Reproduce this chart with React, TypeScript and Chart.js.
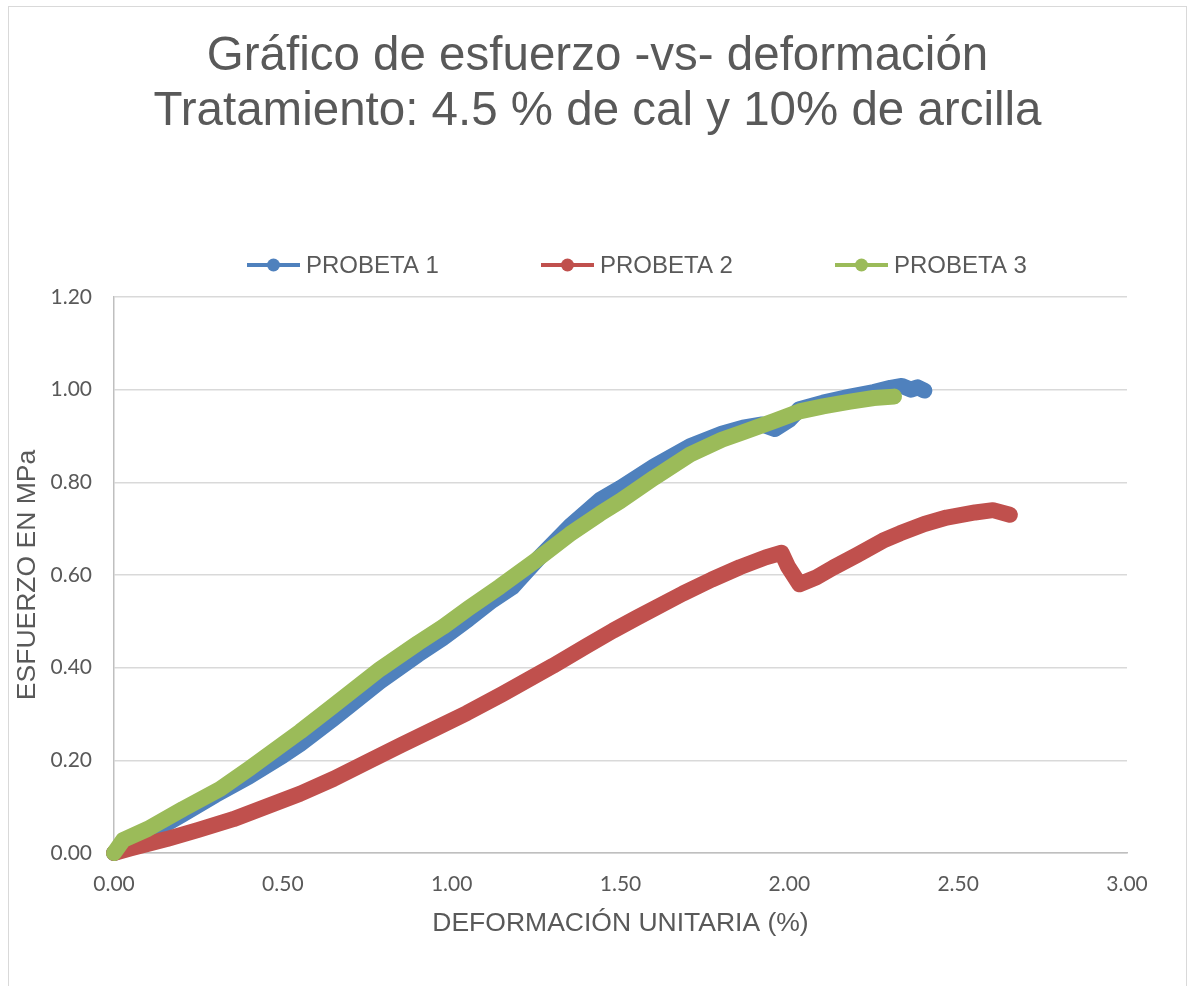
import React, { useEffect, useRef } from "react";
import { Chart, registerables } from "chart.js";

Chart.register(...registerables);

const TITLE_LINES = [
  "Gráfico de esfuerzo -vs- deformación",
  "Tratamiento: 4.5 % de cal y 10% de arcilla",
];
const X_TITLE = "DEFORMACIÓN UNITARIA (%)";
const Y_TITLE = "ESFUERZO EN MPa";
const SERIES_NAMES = ["PROBETA 1", "PROBETA 2", "PROBETA 3"];
const SERIES_COLORS = ["#4f81bd", "#c0504d", "#9bbb59"];

const p1X = [0, 0.03, 0.107, 0.2, 0.3, 0.4, 0.5, 0.551, 0.65, 0.788, 0.9, 0.974, 1.05, 1.12, 1.18, 1.2, 1.26, 1.35, 1.439, 1.5, 1.6, 1.706, 1.8, 1.863, 1.92, 1.957, 2.0, 2.03, 2.1, 2.18, 2.25, 2.3, 2.333, 2.36, 2.38, 2.4];
const p1Y = [0, 0.01, 0.043, 0.082, 0.125, 0.165, 0.21, 0.235, 0.29, 0.37, 0.428, 0.464, 0.505, 0.545, 0.574, 0.59, 0.638, 0.705, 0.762, 0.788, 0.835, 0.878, 0.905, 0.918, 0.925, 0.915, 0.935, 0.958, 0.972, 0.985, 0.995, 1.004, 1.008, 1.0, 1.005, 0.998];

const p2X = [0, 0.05, 0.156, 0.25, 0.353, 0.45, 0.551, 0.65, 0.749, 0.85, 0.95, 1.045, 1.15, 1.3, 1.4, 1.478, 1.549, 1.685, 1.77, 1.854, 1.93, 1.977, 1.996, 2.03, 2.08, 2.13, 2.2, 2.277, 2.328, 2.4, 2.466, 2.55, 2.603, 2.653];
const p2Y = [0, 0.01, 0.03, 0.05, 0.073, 0.1, 0.128, 0.16, 0.196, 0.233, 0.268, 0.302, 0.343, 0.404, 0.447, 0.48, 0.508, 0.56, 0.59, 0.617, 0.638, 0.648, 0.618, 0.58, 0.595, 0.616, 0.643, 0.674, 0.69, 0.71, 0.724, 0.735, 0.74, 0.73];

const p3X = [0, 0.027, 0.1, 0.204, 0.314, 0.4, 0.5, 0.551, 0.65, 0.788, 0.9, 0.974, 1.05, 1.143, 1.25, 1.35, 1.439, 1.5, 1.6, 1.706, 1.8, 1.863, 1.957, 2.03, 2.1, 2.18, 2.25, 2.31];
const p3Y = [0, 0.028, 0.052, 0.095, 0.138, 0.182, 0.235, 0.262, 0.318, 0.397, 0.453, 0.488, 0.528, 0.575, 0.632, 0.688, 0.732, 0.76, 0.81, 0.86, 0.892, 0.908, 0.933, 0.953, 0.964, 0.974, 0.982, 0.985];

const X_MIN = 0, X_MAX = 3, X_STEP = 0.5;
const Y_MIN = 0, Y_MAX = 1.2, Y_STEP = 0.2;

const TEXT = "#595959";
const ARIAL = '"Liberation Sans", Arial, sans-serif';

const toPts = (xs: number[], ys: number[]) => xs.map((x, i) => ({ x, y: ys[i] }));

const overlay = {
  id: "overlay",
  afterDraw(chart: any) {
    const ctx = chart.ctx;
    ctx.save();
    ctx.fillStyle = TEXT;
    ctx.textAlign = "center";
    ctx.textBaseline = "middle";
    ctx.font = `47.5px ${ARIAL}`;
    const cx = chart.width / 2;
    TITLE_LINES.forEach((t, i) => ctx.fillText(t, cx, 50 + i * 55));
    // legend
    ctx.font = `24px ${ARIAL}`;
    ctx.textAlign = "left";
    const ly = 258;
    SERIES_NAMES.forEach((name, i) => {
      const x0 = 238 + i * 294;
      ctx.strokeStyle = SERIES_COLORS[i];
      ctx.lineWidth = 4;
      ctx.beginPath();
      ctx.moveTo(x0, ly);
      ctx.lineTo(x0 + 53, ly);
      ctx.stroke();
      ctx.fillStyle = SERIES_COLORS[i];
      ctx.beginPath();
      ctx.arc(x0 + 26.5, ly, 6.5, 0, Math.PI * 2);
      ctx.fill();
      ctx.fillStyle = TEXT;
      ctx.fillText(name, x0 + 59, ly + 1);
    });
    ctx.restore();
  },
};

export default function App() {
  const ref = useRef<HTMLCanvasElement | null>(null);
  useEffect(() => {
    if (!ref.current) return;
    const seriesX = [p1X, p2X, p3X];
    const seriesY = [p1Y, p2Y, p3Y];
    const chart = new Chart(ref.current, {
      type: "scatter",
      data: {
        datasets: SERIES_NAMES.map((name, i) => ({
          label: name,
          data: toPts(seriesX[i], seriesY[i]),
          showLine: true,
          borderColor: SERIES_COLORS[i],
          backgroundColor: SERIES_COLORS[i],
          borderWidth: 16,
          borderCapStyle: "round",
          borderJoinStyle: "round",
          pointRadius: 0,
          pointHoverRadius: 0,
          tension: 0,
          clip: false,
          order: 3 - i,
        })) as any,
      },
      options: {
        responsive: false,
        animation: false,
        devicePixelRatio: 1,
        layout: { padding: { top: 290, left: 0, right: 59, bottom: 44 } },
        plugins: {
          legend: { display: false },
          title: { display: false },
          tooltip: { enabled: false },
        },
        scales: {
          x: {
            type: "linear",
            min: X_MIN,
            max: X_MAX,
            afterFit: (s: any) => { s.height = 100; },
            ticks: {
              stepSize: X_STEP,
              padding: 19,
              color: TEXT,
              font: { family: "Lato", size: 21 },
              callback: (v: any) => Number(v).toFixed(2),
            },
            grid: { display: false, drawTicks: false },
            border: { display: true, color: "#bfbfbf", width: 1.5 },
            title: {
              display: true,
              text: X_TITLE,
              color: TEXT,
              font: { family: ARIAL, size: 26.5 },
              padding: { top: 0, bottom: 13 },
            },
          },
          y: {
            type: "linear",
            min: Y_MIN,
            max: Y_MAX,
            afterFit: (s: any) => { s.width = 105; },
            ticks: {
              stepSize: Y_STEP,
              padding: 22,
              color: TEXT,
              font: { family: "Lato", size: 21 },
              callback: (v: any) => Number(v).toFixed(2),
            },
            grid: { color: "#d9d9d9", lineWidth: 1.5, drawTicks: false },
            border: { display: true, color: "#bfbfbf", width: 1.5 },
            title: {
              display: true,
              text: Y_TITLE,
              color: TEXT,
              font: { family: ARIAL, size: 26.5 },
              padding: { top: 3, bottom: 0 },
            },
          },
        },
      },
      plugins: [overlay],
    });
    return () => chart.destroy();
  }, []);

  return (
    <div
      style={{
        position: "fixed",
        left: 8,
        top: 6,
        width: 1177,
        height: 990,
        border: "1px solid #d9d9d9",
        background: "#fff",
      }}
    >
      <canvas ref={ref} width={1177} height={990} style={{ display: "block" }} />
    </div>
  );
}
